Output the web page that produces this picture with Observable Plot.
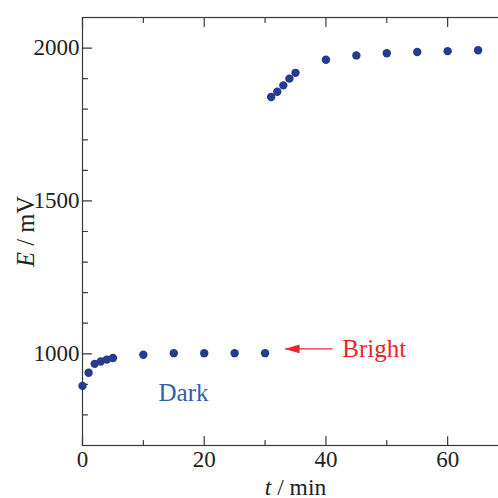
<!DOCTYPE html>
<html><head><meta charset="utf-8">
<script src="https://cdn.jsdelivr.net/npm/d3@7"></script>
<script src="https://cdn.jsdelivr.net/npm/@observablehq/plot@0.6"></script>
<style>html,body{margin:0;padding:0;overflow:hidden;background:#fff}</style>
</head><body><div id="chart"></div>
<script>
// Dark period
const darkT = [0, 1, 2, 3, 4, 5, 10, 15, 20, 25, 30];
const darkE = [895, 938, 967, 975, 981, 986, 997, 1002, 1002, 1002, 1002];
// Bright period
const brightT = [31, 32, 33, 34, 35, 40, 45, 50, 55, 60, 65];
const brightE = [1840, 1857, 1878, 1900, 1919, 1962, 1976, 1983, 1987, 1990, 1993];

const xMajor = [0, 20, 40, 60];
const xMinor = [10, 30, 50];
const yMajor = [1000, 1500, 2000];
const yMinor = [800, 900, 1100, 1200, 1300, 1400, 1600, 1700, 1800, 1900];

const darkLabel = [{t: 16.6, E: 847, text: "Dark"}];
const brightLabel = [{t: 42.7, E: 989, text: "Bright"}];
const arrowSeg = [{t1: 41.0, t2: 33.4, E: 1016}];
const arrowTip = [{t: 33.2, E: 1016}];

const points = [
  ...darkT.map((t, i) => ({t, E: darkE[i]})),
  ...brightT.map((t, i) => ({t, E: brightE[i]}))
];

const ink = "#3a3a3a";
const tickShape = {draw(ctx, l) { ctx.moveTo(0, 0); ctx.lineTo(0, -l); }};
const headSymbol = {draw(ctx) { ctx.moveTo(0, 0); ctx.lineTo(15, -4.4); ctx.lineTo(15, 4.4); ctx.closePath(); }};
const font = "'Liberation Serif', 'Times New Roman', serif";

const tickMarks = (vals, len) => [
  Plot.vector(vals.x || [], {x: d => d, frameAnchor: "bottom", rotate: 0, length: len, anchor: "start", shape: tickShape, stroke: ink, strokeWidth: 1.2}),
  Plot.vector(vals.x || [], {x: d => d, frameAnchor: "top", rotate: 180, length: len, anchor: "start", shape: tickShape, stroke: ink, strokeWidth: 1.2}),
  Plot.vector(vals.y || [], {y: d => d, frameAnchor: "left", rotate: 90, length: len, anchor: "start", shape: tickShape, stroke: ink, strokeWidth: 1.2})
];

const chart = Plot.plot({
  width: 508, height: 498,
  marginLeft: 82, marginRight: 0, marginTop: 17, marginBottom: 53,
  x: {domain: [0, 70], axis: null},
  y: {domain: [700, 2100], axis: null},
  style: {fontFamily: font, maxWidth: "none", background: "white", overflow: "visible"},
  marks: [
    Plot.frame({stroke: ink, strokeWidth: 1.2}),
    ...tickMarks({x: xMajor, y: yMajor}, 9),
    ...tickMarks({x: xMinor, y: yMinor}, 5),
    Plot.axisX({ticks: xMajor, tickSize: 0, tickPadding: 5, fontSize: 23, tickFormat: d => String(d), label: null, fill: "#222"}),
    Plot.axisY({ticks: yMajor, tickSize: 0, tickPadding: 3, fontSize: 23, tickFormat: d => String(d), label: null, fill: "#222"}),
    Plot.text(["t / min"], {text: d => d, frameAnchor: "bottom", dy: 49, lineAnchor: "bottom", textAnchor: "middle", fontSize: 23.5, fill: "#222"}),
    Plot.text(["E / mV"], {text: d => d, frameAnchor: "left", dx: -49, rotate: -90, lineAnchor: "bottom", textAnchor: "middle", fontSize: 24.5, fill: "#222"}),
    Plot.dot(points, {x: "t", y: "E", r: 4.2, fill: "#263b8f", stroke: "none"}),
    Plot.text(darkLabel, {x: "t", y: "E", text: "text", fill: "#2f5fae", fontSize: 25, lineAnchor: "bottom", textAnchor: "middle"}),
    Plot.text(brightLabel, {x: "t", y: "E", text: "text", fill: "#e8262f", fontSize: 25, lineAnchor: "bottom", textAnchor: "start"}),
    Plot.arrow(arrowSeg, {x1: "t1", x2: "t2", y1: "E", y2: "E", stroke: "#e8262f", strokeWidth: 1.4, headLength: 0}),
    Plot.dot(arrowTip, {x: "t", y: "E", symbol: headSymbol, fill: "#e8262f", stroke: "none", r: 5})
  ]
});

d3.select(chart).selectAll("text").each(function() {
  const t = this.textContent;
  if (t === "E / mV" || t === "t / min") {
    const first = t[0], rest = t.slice(1);
    const sel = d3.select(this);
    sel.text(null);
    sel.append("tspan").attr("font-style", "italic").text(first);
    sel.append("tspan").text(rest);
  }
});

document.getElementById("chart").appendChild(chart);
</script>
</body></html>
